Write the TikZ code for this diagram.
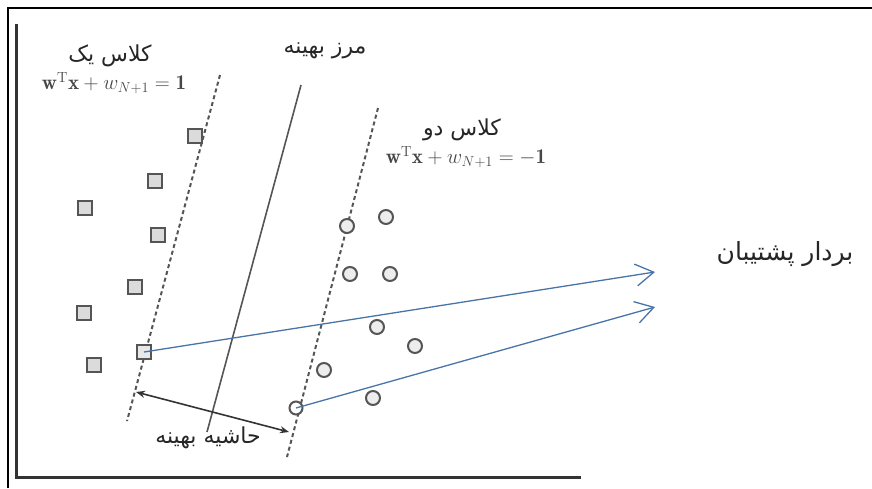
\documentclass[tikz,border=0pt]{standalone}
\usepackage{amsmath, amssymb}
\usepackage{fontspec}
\usetikzlibrary{arrows.meta}
\newfontfamily\farsi[Script=Arabic]{DejaVu Sans}
\TeXXeTstate=1
\newcommand{\fatxt}[1]{{\farsi\beginR #1\endR}}
\definecolor{azulsv}{RGB}{72,116,168}
\definecolor{grisborde}{RGB}{85,85,85}

\begin{document}
\begin{tikzpicture}[x=1pt, y=-1pt,
    cuadro/.style={draw=grisborde, fill=gray!28, line width=2pt, minimum size=14pt, inner sep=0pt},
    circulo/.style={circle, draw=grisborde, fill=gray!14, line width=2pt, minimum size=14pt, inner sep=0pt},
    margen/.style={draw=grisborde, line width=2pt, dash pattern=on 4pt off 3pt},
    vector/.style={draw=azulsv, line width=1.3pt, -{Straight Barb[length=18pt, width=22pt]}},
    rotulo/.style={font=\fontsize{22}{24}\selectfont, text=black!85},
    ecuacion/.style={font=\fontsize{21}{23}\selectfont, text=black!72}]
    \useasboundingbox (0,0) rectangle (872,488);

    % Marco exterior y ejes
    \draw[line width=2pt] (8,488) -- (8,8) -- (872,8);
    \draw[line width=3pt, black!80] (16,24) -- (16,477) -- (581,477);

    % Fronteras: margenes (dashed) y frontera optima
    \coordinate (ma) at (220,75);  \coordinate (mb) at (127,421);
    \coordinate (na) at (378,108); \coordinate (nb) at (287,457);
    \coordinate (fa) at (301,85);  \coordinate (fb) at (207,432);
    \draw[margen] (ma) -- (mb);
    \draw[margen] (na) -- (nb);
    \draw[line width=1.6pt, grisborde] (fa) -- (fb);

    % Clase uno (cuadrados)
    \node[cuadro] (s1) at (195,136) {};
    \node[cuadro] (s2) at (155,181) {};
    \node[cuadro] (s3) at (85,208) {};
    \node[cuadro] (s4) at (158,235) {};
    \node[cuadro] (s5) at (135,287) {};
    \node[cuadro] (s6) at (84,313) {};
    \node[cuadro] (s7) at (94,365) {};
    \node[cuadro, fill=gray!18] (sv1) at (144,352) {};

    % Clase dos (circulos)
    \node[circulo] (c1) at (347,226) {};
    \node[circulo] (c2) at (386,217) {};
    \node[circulo] (c3) at (350,274) {};
    \node[circulo] (c4) at (390,274) {};
    \node[circulo] (c5) at (377,327) {};
    \node[circulo] (c6) at (415,346) {};
    \node[circulo] (c7) at (324,370) {};
    \node[circulo] (c8) at (373,398) {};
    \node[circulo, fill=white, minimum size=13pt] (sv2) at (296,408) {};

    % Margen optimo
    \coordinate (m1) at (136,392);
    \coordinate (m2) at (289,432);
    \draw[line width=1.6pt, black!80, {Stealth[length=9pt, width=7pt]}-{Stealth[length=9pt, width=7pt]}] (m1) -- (m2);

    % Vectores soporte
    \coordinate (t1) at (655,272);
    \coordinate (t2) at (655,307);
    \draw[vector] (sv1.center) -- (t1);
    \draw[vector] (sv2.center) -- (t2);

    % Etiquetas
    \node[rotulo] (lclase1) at (110,56) {\fatxt{کلاس یک}};
    \node[ecuacion] (eq1) at (114,83) {$\mathbf{w}^{\mathrm{T}}\mathbf{x}+w_{N+1}=\mathbf{1}$};
    \node[rotulo] (lfront) at (325,51) {\fatxt{مرز بهینه}};
    \node[rotulo] (lclase2) at (462,130) {\fatxt{کلاس دو}};
    \node[ecuacion] (eq2) at (466,157) {$\mathbf{w}^{\mathrm{T}}\mathbf{x}+w_{N+1}=\mathbf{-1}$};
    \node[rotulo] (lmargen) at (208,438) {\fatxt{حاشیه بهینه}};
    \node[rotulo, font=\fontsize{25}{27}\selectfont] (lsv) at (785,254) {\fatxt{بردار پشتیبان}};
\end{tikzpicture}
\end{document}
